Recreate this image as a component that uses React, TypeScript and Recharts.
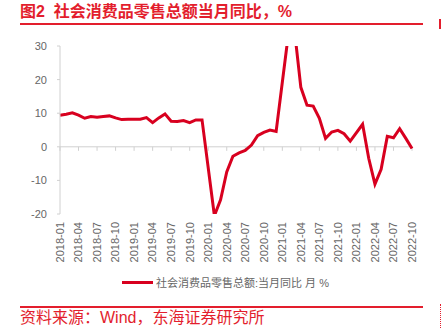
import React from "react";
import { LineChart, Line, XAxis, YAxis, ReferenceLine, Legend } from "recharts";

const months = [
  "2018-01", "2018-02", "2018-03", "2018-04", "2018-05", "2018-06", "2018-07", "2018-08", "2018-09", "2018-10", "2018-11", "2018-12",
  "2019-01", "2019-02", "2019-03", "2019-04", "2019-05", "2019-06", "2019-07", "2019-08", "2019-09", "2019-10", "2019-11", "2019-12",
  "2020-01", "2020-02", "2020-03", "2020-04", "2020-05", "2020-06", "2020-07", "2020-08", "2020-09", "2020-10", "2020-11", "2020-12",
  "2021-01", "2021-02", "2021-03", "2021-04", "2021-05", "2021-06", "2021-07", "2021-08", "2021-09", "2021-10", "2021-11", "2021-12",
  "2022-01", "2022-02", "2022-03", "2022-04", "2022-05", "2022-06", "2022-07", "2022-08", "2022-09", "2022-10",
];

// 社会消费品零售总额:当月同比 (1月无单月数据)
const retailYoY: (number | null)[] = [
  9.4, 9.7, 10.1, 9.4, 8.5, 9.0, 8.8, 9.0, 9.2, 8.6, 8.1, 8.2,
  null, 8.2, 8.7, 7.2, 8.6, 9.8, 7.6, 7.5, 7.8, 7.2, 8.0, 8.0,
  null, -20.5, -15.8, -7.5, -2.8, -1.8, -1.1, 0.5, 3.3, 4.3, 5.0, 4.6,
  null, 33.8, 34.2, 17.7, 12.4, 12.1, 8.5, 2.5, 4.4, 4.9, 3.9, 1.7,
  null, 6.7, -3.5, -11.1, -6.7, 3.1, 2.7, 5.4, 2.5, -0.5,
];

const yTicks = [-20, -15, -10, -5, 0, 5, 10, 15, 20, 25, 30];

const seriesName = "社会消费品零售总额:当月同比 月 %";
const RED = "#D8001F";
const TITLE_RED = "#E31E2D";
const TEXT_GREY = "#666666";
const AXIS_GREY = "#D0D0D0";
const FONT = "'Liberation Sans', 'Noto Sans CJK SC', sans-serif";

const data = months.map((m, i) => ({ month: m, value: retailYoY[i] }));
const tickMonths = months.filter((_, i) => i % 3 === 0);

function MonthTick(props: any) {
  const { x, y, payload } = props;
  return (
    <text
      x={x}
      y={y}
      transform={`rotate(-90, ${x}, ${y})`}
      textAnchor="end"
      dy="0.35em"
      fontSize={11}
      fill={TEXT_GREY}
      fontFamily={FONT}
    >
      {payload.value}
    </text>
  );
}

function LegendBox() {
  return (
    <div style={{ width: 443, height: 20, display: "flex", alignItems: "center", fontFamily: FONT }}>
      <div style={{ marginLeft: 122, width: 31, height: 3, background: RED }} />
      <span style={{ marginLeft: 3, fontSize: 11, color: TEXT_GREY }}>{seriesName}</span>
    </div>
  );
}

export default function App() {
  return (
    <div style={{ position: "absolute", left: 0, top: 0, width: 443, height: 328, background: "#fff", fontFamily: FONT }}>
      <div style={{ position: "absolute", left: 20, top: 4, fontSize: 16, lineHeight: "16px", fontWeight: 700, color: TITLE_RED, whiteSpace: "pre" }}>
        图2  社会消费品零售总额当月同比，%
      </div>
      <div style={{ position: "absolute", left: 20, top: 23, width: 403, height: 1.5, background: TITLE_RED }} />
      <div style={{ position: "absolute", left: 439, top: 19, width: 2, height: 10, background: TITLE_RED }} />

      <div style={{ position: "absolute", left: 0, top: 0 }}>
        <LineChart width={443} height={292} data={data} margin={{ top: 46, right: 31, left: 0, bottom: 0 }}>
          <XAxis
            dataKey="month"
            interval={2}
            axisLine={false}
            tickLine={false}
            height={58}
            tick={<MonthTick />}
          />
          <YAxis
            domain={[-20, 30]}
            ticks={yTicks}
            allowDataOverflow
            width={60}
            tickSize={3}
            tickMargin={10}
            axisLine={{ stroke: AXIS_GREY }}
            tickLine={{ stroke: AXIS_GREY }}
            tick={{ fontSize: 11, fill: TEXT_GREY, fontFamily: FONT }}
          />
          <ReferenceLine y={0} stroke={AXIS_GREY} strokeWidth={1} />
          {tickMonths.map((m) => (
            <ReferenceLine
              key={m}
              segment={[{ x: m, y: 0 }, { x: m, y: -1.2 }]}
              stroke={AXIS_GREY}
              strokeWidth={1}
            />
          ))}
          <Legend verticalAlign="bottom" height={20} content={<LegendBox />} />
          <Line
            type="linear"
            dataKey="value"
            name={seriesName}
            stroke={RED}
            strokeWidth={3}
            dot={false}
            connectNulls
            isAnimationActive={false}
          />
        </LineChart>
      </div>

      <div style={{ position: "absolute", left: 20, top: 306, width: 403, height: 1.5, background: TITLE_RED }} />
      <div style={{ position: "absolute", left: 440, top: 304, width: 0, height: 24, borderLeft: `1px dotted ${TITLE_RED}` }} />
      <div style={{ position: "absolute", left: 20, top: 310, fontSize: 16, lineHeight: "16px", color: TITLE_RED, whiteSpace: "pre" }}>
        资料来源：Wind，东海证券研究所
      </div>
    </div>
  );
}
